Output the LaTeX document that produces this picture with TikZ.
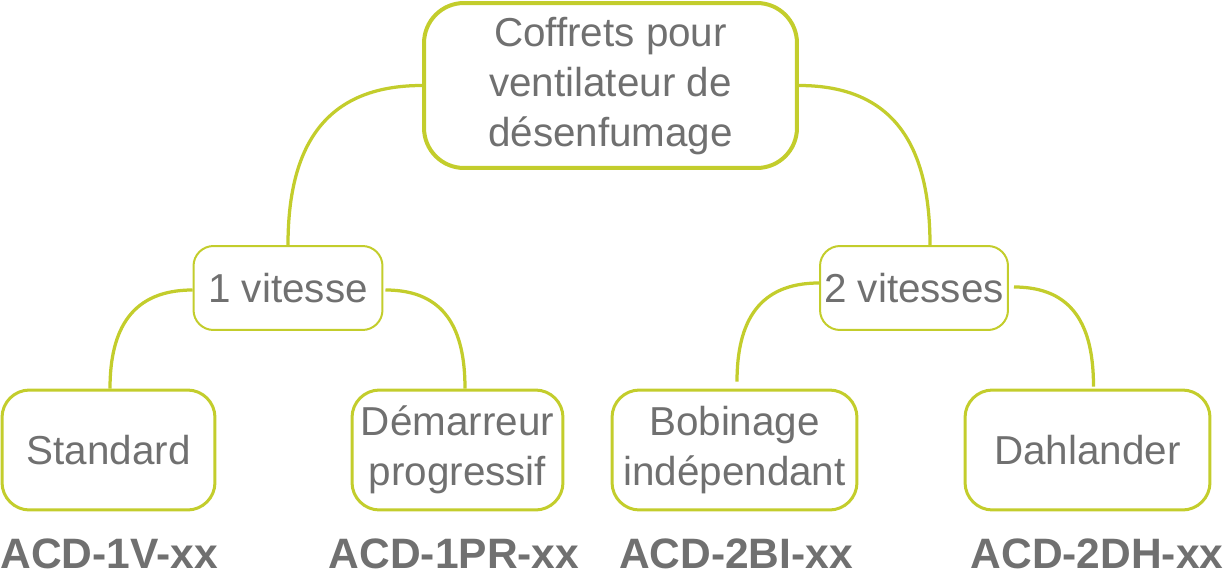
\documentclass[tikz,border=0pt]{standalone}
\usepackage{fontspec}
\setmainfont{Liberation Sans}
\definecolor{ventgreen}{HTML}{C3CD2C}
\definecolor{ventgray}{HTML}{707070}
\begin{document}
\begin{tikzpicture}[
x=0.02cm, y=-0.02cm,
every node/.style={align=center, text=ventgray, inner sep=0pt,
  font=\fontsize{23}{28.5}\selectfont},
rootbox/.style={draw=ventgreen, line width=0.08cm, rounded corners=0.8cm,
  minimum width=7.46cm, minimum height=3.3cm},
speedbox/.style={draw=ventgreen, line width=0.04cm, rounded corners=0.4cm,
  minimum width=3.78cm, minimum height=1.68cm},
typebox/.style={draw=ventgreen, line width=0.06cm, rounded corners=0.55cm,
  minimum height=2.4cm},
ref/.style={anchor=base, font=\fontsize{24.2}{28}\selectfont\bfseries},
link/.style={draw=ventgreen, line width=0.065cm, looseness=1.2}
]
\useasboundingbox (0,0) rectangle (1226,578);

\node[rootbox, text depth=0.16cm] (root) at (610.5,85.5) {Coffrets pour\\ventilateur de\\désenfumage};

\node[speedbox] (v1) at (288,288) {1 vitesse};
\node[speedbox, minimum width=3.76cm] (v2) at (914,288) {2 vitesses};

\node[typebox, minimum width=4.26cm] (std) at (108.5,450) {Standard};
\node[typebox, minimum width=4.22cm] (dem) at (457.5,450) {Démarreur\\progressif};
\node[typebox, minimum width=4.9cm] (bob) at (734.5,450) {Bobinage\\indépendant};
\node[typebox, minimum width=4.9cm] (dah) at (1087.5,450) {Dahlander};

\node[ref] (r1) at (109,568) {ACD-1V-xx};
\node[ref] (r2) at (454,568) {ACD-1PR-xx};
\node[ref] (r3) at (736,568) {ACD-2BI-xx};
\node[ref] (r4) at (1097,568) {ACD-2DH-xx};

% branches
\draw[link] (root.west) to[out=180, in=90] (v1.north);
\draw[link] (root.east) to[out=0, in=90] ([xshift=0.32cm]v2.north);
\draw[link] ([yshift=-0.04cm]v1.west) to[out=180, in=90] ([xshift=0.03cm]std.north);
\draw[link] ([xshift=0.04cm,yshift=-0.04cm]v1.east) to[out=0, in=90] ([xshift=0.15cm]dem.north);
\draw[link] ([yshift=0.1cm]v2.west) to[out=180, in=90] ([xshift=0.05cm,yshift=0.14cm]bob.north);
\draw[link] ([xshift=0.1cm,yshift=0.02cm]v2.east) to[out=0, in=90] ([xshift=0.12cm,yshift=0.04cm]dah.north);
\end{tikzpicture}
\end{document}
